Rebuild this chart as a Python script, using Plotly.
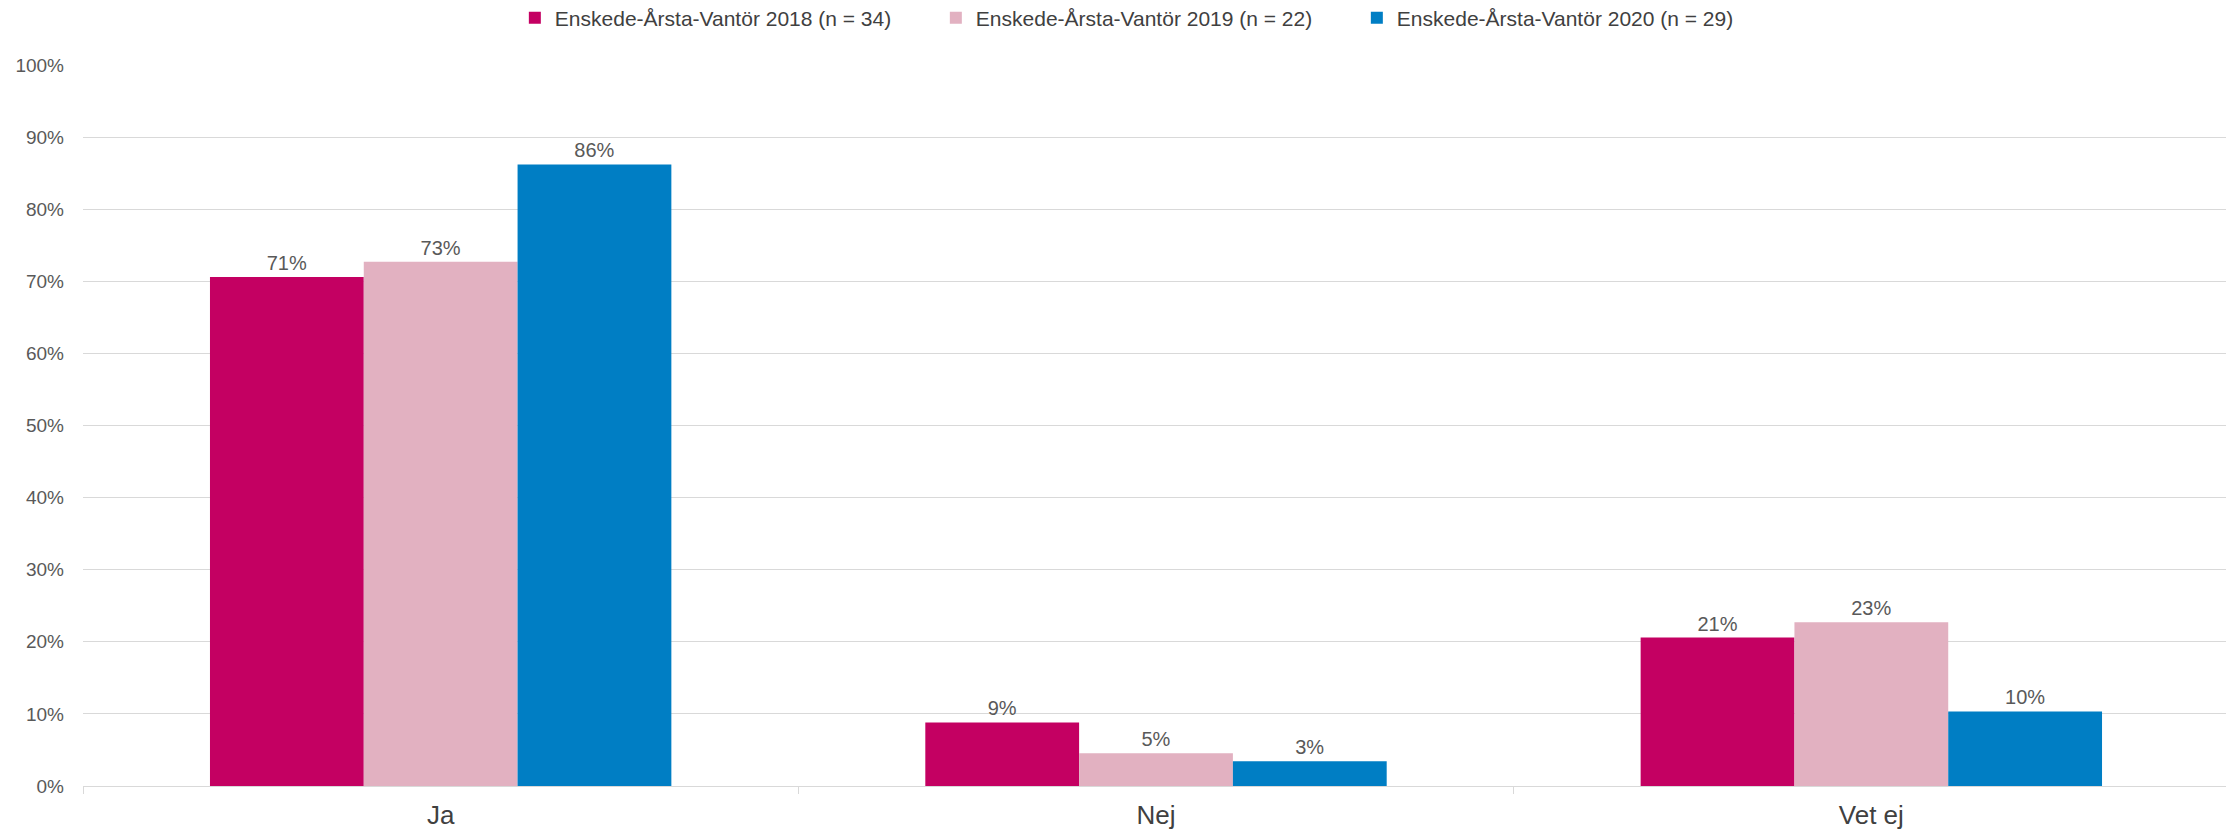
import plotly.graph_objects as go

# svar per kategori (andel), beräknat från antal svar
kategorier = ["Ja", "Nej", "Vet ej"]
serier = [
    "Enskede-Årsta-Vantör 2018 (n = 34)",
    "Enskede-Årsta-Vantör 2019 (n = 22)",
    "Enskede-Årsta-Vantör 2020 (n = 29)",
]
andel_2018 = [24 / 34, 3 / 34, 7 / 34]
andel_2019 = [16 / 22, 1 / 22, 5 / 22]
andel_2020 = [25 / 29, 1 / 29, 3 / 29]
farger = ["#C40062", "#E2B1C1", "#007EC4"]

fig = go.Figure()

for namn, varden, farg in zip(serier, [andel_2018, andel_2019, andel_2020], farger):
    fig.add_trace(go.Bar(
        x=kategorier,
        y=varden,
        name=namn,
        marker_color=farg,
        marker_line_width=0,
        texttemplate="%{y:.0%}",
        textposition="outside",
        textfont=dict(size=20, color="#595959"),
        cliponaxis=False,
    ))

# sidan lägger 8 px marginal runt figuren, därför lite mindre storlek
fig.update_layout(
    width=2226,
    height=821,
    template="plotly_white",
    paper_bgcolor="white",
    plot_bgcolor="white",
    font=dict(family="Liberation Sans, Arial, sans-serif", color="#595959"),
    barmode="group",
    bargap=0.355,
    bargroupgap=0,
    margin=dict(l=75, r=5, t=57, b=43, autoexpand=False),
    legend=dict(
        orientation="h",
        x=0.4955,
        xanchor="center",
        y=1.065,
        yanchor="middle",
        font=dict(size=21, color="#404040"),
        entrywidth=376,
        traceorder="normal",
    ),
    xaxis=dict(
        showgrid=False,
        showline=True,
        linecolor="#D9D9D9",
        linewidth=1,
        ticks="outside",
        tickson="boundaries",
        ticklen=7,
        tickcolor="#D9D9D9",
        ticklabelstandoff=6,
        tickfont=dict(size=26, color="#404040"),
    ),
    yaxis=dict(
        range=[0, 1],
        tickvals=[i / 10 for i in range(11)],
        tickformat=".0%",
        showgrid=True,
        gridcolor="#D9D9D9",
        gridwidth=1,
        zeroline=False,
        showline=False,
        ticks="",
        ticklabelstandoff=18,
        tickfont=dict(size=19, color="#595959"),
    ),
)

fig.write_html("out.html")
